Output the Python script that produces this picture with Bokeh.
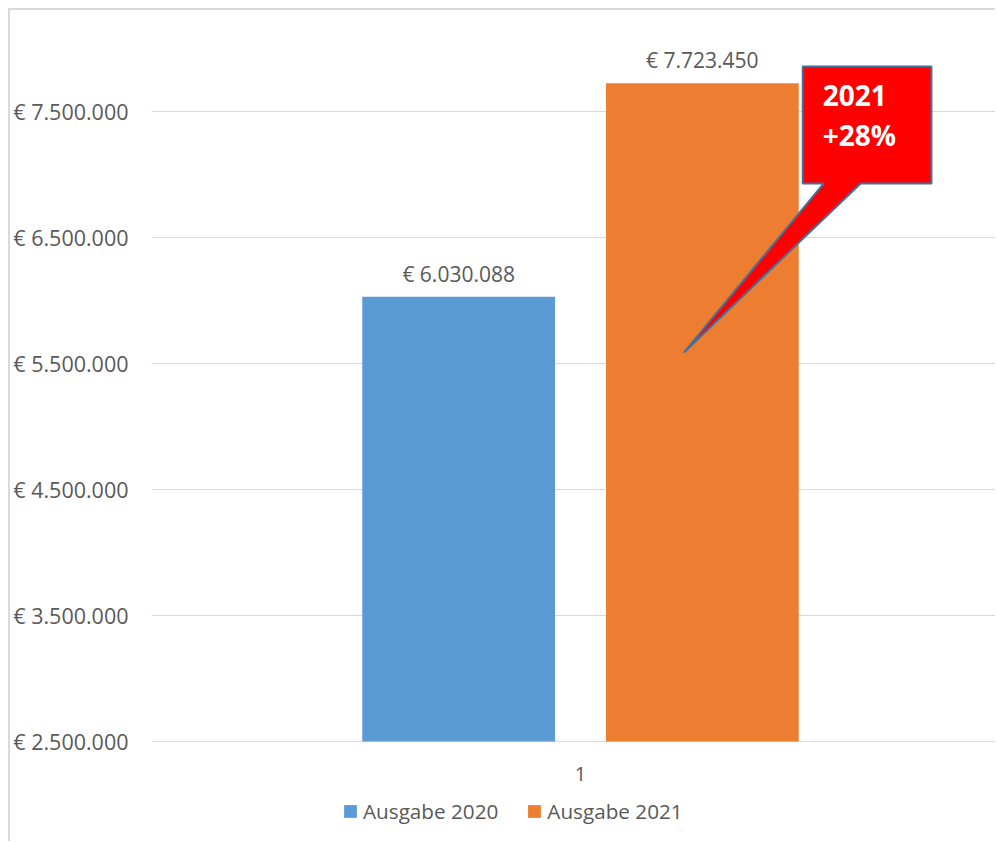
from bokeh.plotting import figure
from bokeh.models import (ColumnDataSource, Range1d, FixedTicker, Legend, LegendItem,
                          LabelSet, Label)
from bokeh.core.properties import value
from bokeh.transform import dodge
from bokeh.embed import file_html
from bokeh.resources import INLINE

# ---- data ----
categories = ["1"]
series_names = ["Ausgabe 2020", "Ausgabe 2021"]
values_2020 = [6030088]
values_2021 = [7723450]
y_ticks = [2500000, 3500000, 4500000, 5500000, 6500000, 7500000]
y_tick_labels = ["€ 2.500.000", "€ 3.500.000", "€ 4.500.000",
                 "€ 5.500.000", "€ 6.500.000", "€ 7.500.000"]
callout_year = "2021"

# ---- style ----
BLUE = "#5B9BD5"
ORANGE = "#ED7D31"
TEXT = "#595959"
GRID = "#D9D9D9"
FONT = "Open Sans"


def eur(v):
    return "€ " + f"{v:,}".replace(",", ".")


base = y_ticks[0]
x_idx = list(range(len(categories)))
src20 = ColumnDataSource(dict(x=x_idx, v=values_2020, b=[base] * len(x_idx),
                              t=[eur(v) for v in values_2020]))
src21 = ColumnDataSource(dict(x=x_idx, v=values_2021, b=[base] * len(x_idx),
                              t=[eur(v) for v in values_2021]))
cat_src = ColumnDataSource(dict(x=x_idx, y=[base] * len(x_idx), t=categories))

p = figure(width=987, height=833, output_backend="svg", toolbar_location=None,
           x_range=Range1d(-0.5, 0.486), y_range=Range1d(1690476, 8198413),
           min_border_left=140, min_border_right=0, min_border_top=13,
           min_border_bottom=0)
p.styles = {"margin-left": "8px", "margin-top": "8px",
            "border-left": "2px solid #D9D9D9", "border-top": "2px solid #D9D9D9"}
p.outline_line_color = None
p.background_fill_color = "white"
p.border_fill_color = "white"

OFF = 0.142
W = 0.2247
r20 = p.vbar(x=dodge("x", -OFF, range=p.x_range), top="v", bottom="b", width=W,
             source=src20, fill_color=BLUE, line_color=None)
r21 = p.vbar(x=dodge("x", OFF, range=p.x_range), top="v", bottom="b", width=W,
             source=src21, fill_color=ORANGE, line_color=None)

for s, off in ((src20, -OFF), (src21, OFF)):
    p.add_layout(LabelSet(x=dodge("x", off, range=p.x_range), y="v", text="t", source=s,
                          text_align="center", text_baseline="alphabetic", y_offset=15,
                          text_font=value(FONT), text_font_size="21px", text_color=TEXT))

# category label under the baseline
p.add_layout(LabelSet(x="x", y="y", text="t", source=cat_src, text_align="center",
                      text_baseline="middle", y_offset=-32, text_font=value(FONT),
                      text_font_size="20px", text_color=TEXT))

# axes
p.yaxis.ticker = FixedTicker(ticks=y_ticks)
p.yaxis.major_label_overrides = {t: l for t, l in zip(y_ticks, y_tick_labels)}
p.yaxis.axis_line_color = None
p.yaxis.major_tick_line_color = None
p.yaxis.minor_tick_line_color = None
p.yaxis.major_tick_out = 0
p.yaxis.major_tick_in = 0
p.yaxis.major_label_standoff = 23
p.yaxis.major_label_text_font = FONT
p.yaxis.major_label_text_font_size = "21.5px"
p.yaxis.major_label_text_color = TEXT
p.xaxis.visible = False

p.xgrid.grid_line_color = None
p.ygrid.grid_line_color = GRID
p.ygrid.grid_line_width = 1
p.ygrid.ticker = FixedTicker(ticks=y_ticks)

# callout (annotation shape, in data coordinates)
bx1, bx2 = 0.259, 0.409
by_top, by_bot = 7857000, 6929000
wx1, wx2 = 0.2835, 0.3265
tip_x, tip_y = 0.1205, 5587000
p.patch(x=[bx1, bx2, bx2, wx2, tip_x, wx1, bx1, bx1],
        y=[by_top, by_top, by_bot, by_bot, tip_y, by_bot, by_bot, by_top],
        fill_color="#FF0000", line_color="#41719C", line_width=2)
growth = round((values_2021[0] / values_2020[0] - 1) * 100)
for txt, yo in ((callout_year, -29), (f"+{growth}%", -68)):
    p.add_layout(Label(x=bx1, y=by_top, text=txt, x_offset=20, y_offset=yo,
                       text_font=FONT, text_font_size="28px", text_font_style="bold",
                       text_color="white", text_baseline="alphabetic"))

legend = Legend(items=[LegendItem(label=series_names[0], renderers=[r20]),
                       LegendItem(label=series_names[1], renderers=[r21])],
                orientation="horizontal", location=(191, 18),
                glyph_width=16, glyph_height=16, label_standoff=5, spacing=28,
                padding=0, margin=0, border_line_color=None, background_fill_alpha=0,
                label_text_font=FONT, label_text_font_size="20.7px", label_text_color=TEXT)
p.add_layout(legend, "center")

open("out.html", "w").write(file_html(p, INLINE))
